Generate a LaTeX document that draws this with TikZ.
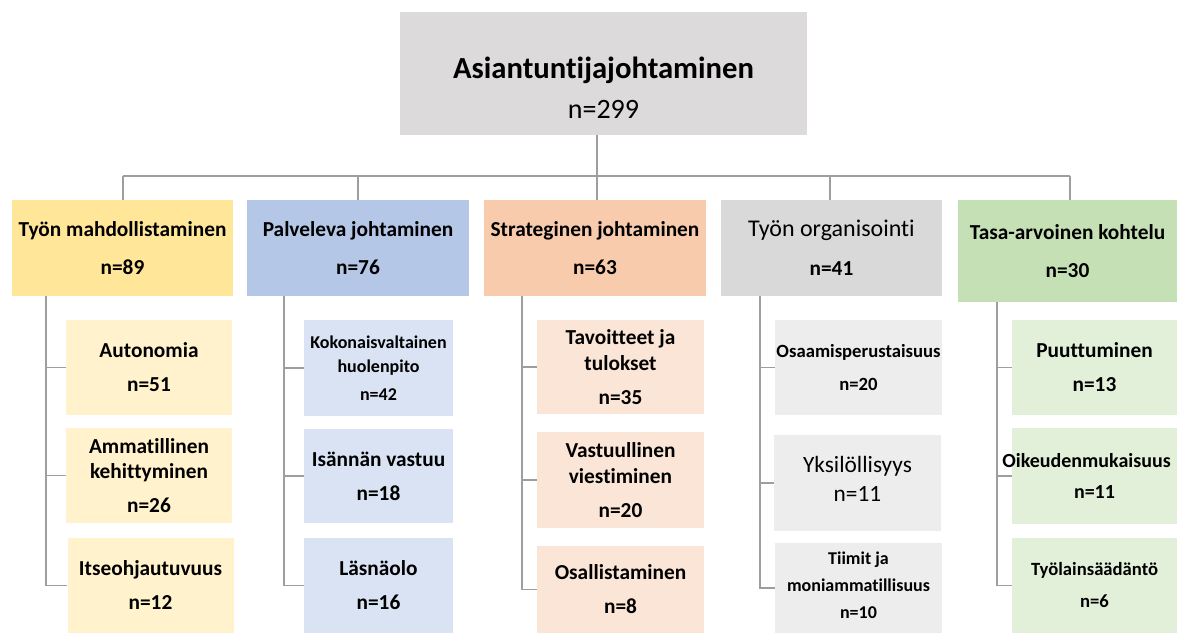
\documentclass[tikz,border=0pt]{standalone}
\usepackage{fontspec}
\setmainfont{Carlito}[Ligatures={NoCommon}]
\begin{document}
\begin{tikzpicture}[x=0.75pt,y=-0.75pt,
  box/.style={rectangle,inner sep=0pt,align=center,text=black},
  fs/.style 2 args={font=\bfseries\fontsize{#1}{#2}\selectfont},
  fsr/.style 2 args={font=\mdseries\fontsize{#1}{#2}\selectfont},
  link/.style={draw=black!38,line width=1.1pt},
  rootbox/.style={box,fill=rootgray},
  headA/.style={box,fill=yelA},  kidA/.style={box,fill=yelB},
  headB/.style={box,fill=bluA},  kidB/.style={box,fill=bluB},
  headC/.style={box,fill=orgA},  kidC/.style={box,fill=orgB},
  headD/.style={box,fill=gryA},  kidD/.style={box,fill=gryB},
  headE/.style={box,fill=grnA},  kidE/.style={box,fill=grnB},
]
\definecolor{rootgray}{HTML}{DCDADB}
\definecolor{yelA}{HTML}{FFE699}\definecolor{yelB}{HTML}{FFF2CC}
\definecolor{bluA}{HTML}{B4C7E7}\definecolor{bluB}{HTML}{DAE3F3}
\definecolor{orgA}{HTML}{F8CBAD}\definecolor{orgB}{HTML}{FBE5D6}
\definecolor{gryA}{HTML}{D9D9D9}\definecolor{gryB}{HTML}{EDEDED}
\definecolor{grnA}{HTML}{C5E0B4}\definecolor{grnB}{HTML}{E2F0D9}
\useasboundingbox (0,0) rectangle (1177,633);

% root (the strut pushes the two lines a little below the middle)
\node[rootbox,fsr={21}{30},minimum width=305.25pt,minimum height=92.25pt] (root) at (603.5,73.5)
  {{\bfseries\fontsize{23}{30}\selectfont\rule{0pt}{38pt}Asiantuntijajohtaminen}\\n=299};

% first level
\node[headA,fs={16}{29},minimum width=165.75pt,minimum height=72pt] (b1) at (122.5,248)
  {Työn mahdollistaminen\\n=89};
\node[headB,fs={16}{29},minimum width=166.5pt,minimum height=72pt] (b2) at (358,248)
  {Palveleva johtaminen\\n=76};
\node[headC,fs={16}{29},minimum width=166.5pt,minimum height=72pt] (b3) at (595,248)
  {Strateginen johtaminen\\n=63};
\node[headD,fs={16}{29},minimum width=165.75pt,minimum height=72pt] (b4) at (831.5,248)
  {{\mdseries\fontsize{18}{29}\selectfont Työn organisointi}\\n=41};
\node[headE,fs={16}{29},minimum width=164.25pt,minimum height=76.5pt] (b5) at (1067.5,251)
  {Tasa-arvoinen kohtelu\\n=30};

% second level, column 1
\node[kidA,fs={16}{25.5},minimum width=124.5pt,minimum height=71.25pt] (c11) at (149,367.5)
  {Autonomia\\n=51};
\node[kidA,fs={16}{19},minimum width=124.5pt,minimum height=71.25pt] (c12) at (149,475.5)
  {Ammatillinen\\kehittyminen\\[6.5pt]n=26};
\node[kidA,fs={16}{25.5},minimum width=124.5pt,minimum height=71.25pt] (c13) at (150.5,585.5)
  {Itseohjautuvuus\\n=12};

% column 2
\node[kidB,fs={13.5}{18},minimum width=111.75pt,minimum height=72pt] (c21) at (378.5,368)
  {Kokonaisvaltainen\\huolenpito\\[3pt]n=42};
\node[kidB,fs={16}{25.5},minimum width=111.75pt,minimum height=70.5pt] (c22) at (378.5,476)
  {Isännän vastuu\\n=18};
\node[kidB,fs={16}{25.5},minimum width=111.75pt,minimum height=71.25pt] (c23) at (378.5,585.5)
  {Läsnäolo\\n=16};

% column 3
\node[kidC,fs={16}{19},minimum width=125.25pt,minimum height=70.5pt] (c31) at (620.5,367)
  {Tavoitteet ja\\tulokset\\[6.5pt]n=35};
\node[kidC,fs={16}{19},minimum width=125.25pt,minimum height=72pt] (c32) at (620.5,480)
  {Vastuullinen\\viestiminen\\[6.5pt]n=20};
\node[kidC,fs={16}{25.5},minimum width=125.25pt,minimum height=65.25pt] (c33) at (620.5,589.5)
  {Osallistaminen\\n=8};

% column 4
\node[kidD,fs={14}{25},minimum width=125.25pt,minimum height=71.25pt] (c41) at (858.5,367.5)
  {Osaamisperustaisuus\\n=20};
\node[kidD,fsr={17.5}{25},minimum width=125.25pt,minimum height=72pt] (c42) at (857.5,483)
  {\rule{0pt}{0pt}Yksilöllisyys\\[-3pt]n=11\rule[-6pt]{0pt}{0pt}};
\node[kidD,fs={13.5}{20},minimum width=125.25pt,minimum height=67.5pt] (c43) at (858.5,588)
  {Tiimit ja\\moniammatillisuus\\n=10\rule[-4pt]{0pt}{0pt}};

% column 5
\node[kidE,fs={16}{25.5},minimum width=123.75pt,minimum height=71.25pt] (c51) at (1094.5,367.5)
  {Puuttuminen\\n=13};
\node[kidE,fs={15}{23},minimum width=123.75pt,minimum height=72pt] (c52) at (1094.5,476)
  {\hspace*{-12pt}Oikeudenmukaisuus\\n=11};
\node[kidE,fs={14}{24},minimum width=123.75pt,minimum height=71.25pt] (c53) at (1094.5,585.5)
  {Työlainsäädäntö\\n=6};

% bus between the root and the first level
\coordinate (bus) at (0,176);
\coordinate (d1) at (123,200);
\coordinate (d2) at (358,200);
\coordinate (d3) at (597,200);
\coordinate (d4) at (830,200);
\coordinate (d5) at (1070,200);
\draw[link] (d3 |- root.south) -- (d3);
\draw[link] (d1 |- bus) -- (d5 |- bus);
\foreach \d in {d1,d2,d4,d5} \draw[link] (\d |- bus) -- (\d);

% stems from each first-level box to its children
\coordinate (s1) at (46,296);
\coordinate (s2) at (284,296);
\coordinate (s3) at (522,296);
\coordinate (s4) at (760,296);
\coordinate (s5) at (997,302);
\draw[link] (s1) |- (c13.west);
\draw[link] (s1 |- c11.west) -- (c11.west);
\draw[link] (s1 |- c12.west) -- (c12.west);
\draw[link] (s2) |- (c23.west);
\draw[link] (s2 |- c21.west) -- (c21.west);
\draw[link] (s2 |- c22.west) -- (c22.west);
\draw[link] (s3) |- (c33.west);
\draw[link] (s3 |- c31.west) -- (c31.west);
\draw[link] (s3 |- c32.west) -- (c32.west);
\draw[link] (s4) |- (c43.west);
\draw[link] (s4 |- c41.west) -- (c41.west);
\draw[link] (s4 |- c42.west) -- (c42.west);
\draw[link] (s5) |- (c53.west);
\draw[link] (s5 |- c51.west) -- (c51.west);
\draw[link] (s5 |- c52.west) -- (c52.west);
\end{tikzpicture}
\end{document}
